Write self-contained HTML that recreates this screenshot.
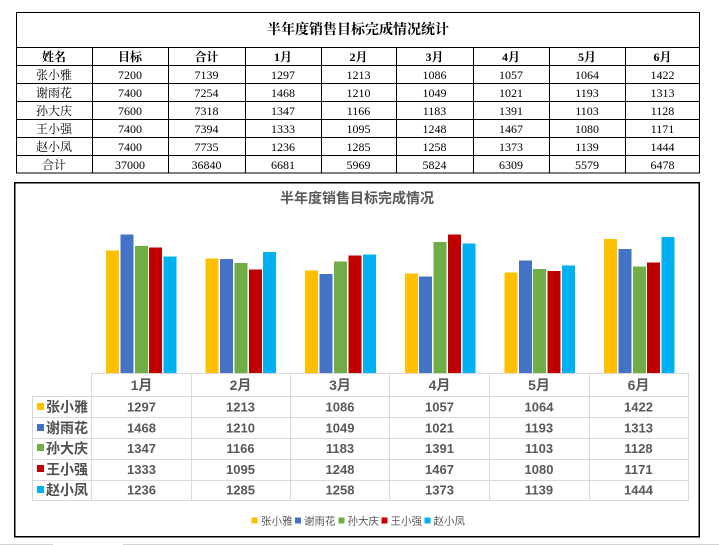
<!DOCTYPE html>
<html><head><meta charset="utf-8">
<style>
html,body{margin:0;padding:0;background:#fff;}
body{width:719px;height:545px;overflow:hidden;}
svg{display:block;}
.t{font-family:"Liberation Serif","Noto Serif CJK SC",serif;font-size:12px;fill:#000;}
.tb{font-weight:bold;}
.c{font-family:"Liberation Sans","Noto Sans CJK SC",sans-serif;fill:#595959;}
</style></head>
<body>
<svg width="719" height="545" viewBox="0 0 719 545" xmlns="http://www.w3.org/2000/svg">
<!-- Top table -->
<g stroke="#000" stroke-width="1" fill="none" shape-rendering="crispEdges">
<rect x="16.5" y="12.5" width="683" height="160.5"/>
<line x1="16" y1="47.5" x2="700" y2="47.5"/>
<line x1="16" y1="65.5" x2="700" y2="65.5"/>
<line x1="16" y1="83.5" x2="700" y2="83.5"/>
<line x1="16" y1="101.5" x2="700" y2="101.5"/>
<line x1="16" y1="119.5" x2="700" y2="119.5"/>
<line x1="16" y1="137.5" x2="700" y2="137.5"/>
<line x1="16" y1="155.5" x2="700" y2="155.5"/>
<line x1="92.5" y1="47" x2="92.5" y2="173"/>
<line x1="168.5" y1="47" x2="168.5" y2="173"/>
<line x1="245.5" y1="47" x2="245.5" y2="173"/>
<line x1="321.5" y1="47" x2="321.5" y2="173"/>
<line x1="396.5" y1="47" x2="396.5" y2="173"/>
<line x1="473.5" y1="47" x2="473.5" y2="173"/>
<line x1="549.5" y1="47" x2="549.5" y2="173"/>
<line x1="625.5" y1="47" x2="625.5" y2="173"/>
</g>
<text class="t tb" x="358" y="34" text-anchor="middle" style="font-size:14px">半年度销售目标完成情况统计</text>
<g class="t" text-anchor="middle">
<g class="tb">
<text x="54" y="61">姓名</text><text x="130" y="61">目标</text><text x="206.5" y="61">合计</text><text x="283" y="61">1月</text><text x="358.5" y="61">2月</text><text x="434.5" y="61">3月</text><text x="511" y="61">4月</text><text x="587" y="61">5月</text><text x="662.5" y="61">6月</text>
</g>
<text x="54" y="79">张小雅</text><text x="130" y="79">7200</text><text x="206.5" y="79">7139</text><text x="283" y="79">1297</text><text x="358.5" y="79">1213</text><text x="434.5" y="79">1086</text><text x="511" y="79">1057</text><text x="587" y="79">1064</text><text x="662.5" y="79">1422</text>
<text x="54" y="97">谢雨花</text><text x="130" y="97">7400</text><text x="206.5" y="97">7254</text><text x="283" y="97">1468</text><text x="358.5" y="97">1210</text><text x="434.5" y="97">1049</text><text x="511" y="97">1021</text><text x="587" y="97">1193</text><text x="662.5" y="97">1313</text>
<text x="54" y="115">孙大庆</text><text x="130" y="115">7600</text><text x="206.5" y="115">7318</text><text x="283" y="115">1347</text><text x="358.5" y="115">1166</text><text x="434.5" y="115">1183</text><text x="511" y="115">1391</text><text x="587" y="115">1103</text><text x="662.5" y="115">1128</text>
<text x="54" y="133">王小强</text><text x="130" y="133">7400</text><text x="206.5" y="133">7394</text><text x="283" y="133">1333</text><text x="358.5" y="133">1095</text><text x="434.5" y="133">1248</text><text x="511" y="133">1467</text><text x="587" y="133">1080</text><text x="662.5" y="133">1171</text>
<text x="54" y="151">赵小凤</text><text x="130" y="151">7400</text><text x="206.5" y="151">7735</text><text x="283" y="151">1236</text><text x="358.5" y="151">1285</text><text x="434.5" y="151">1258</text><text x="511" y="151">1373</text><text x="587" y="151">1139</text><text x="662.5" y="151">1444</text>
<text x="54" y="169">合计</text><text x="130" y="169">37000</text><text x="206.5" y="169">36840</text><text x="283" y="169">6681</text><text x="358.5" y="169">5969</text><text x="434.5" y="169">5824</text><text x="511" y="169">6309</text><text x="587" y="169">5579</text><text x="662.5" y="169">6478</text>
</g>

<!-- Chart frame -->
<rect x="14.75" y="182.75" width="684.5" height="354" fill="#fff" stroke="#000" stroke-width="1.5"/>
<text class="c" x="357" y="203" text-anchor="middle" style="font-size:14px;font-weight:bold">半年度销售目标完成情况</text>

<!-- Bars -->
<g shape-rendering="crispEdges">
<rect x="106" y="250.7" width="13" height="122.3" fill="#FFC000"/>
<rect x="120.4" y="234.6" width="13" height="138.4" fill="#4472C4"/>
<rect x="134.8" y="246" width="13" height="127" fill="#70AD47"/>
<rect x="149.2" y="247.3" width="13" height="125.7" fill="#C00000"/>
<rect x="163.6" y="256.4" width="13" height="116.6" fill="#00B0F0"/>

<rect x="205.6" y="258.6" width="13" height="114.4" fill="#FFC000"/>
<rect x="220" y="258.9" width="13" height="114.1" fill="#4472C4"/>
<rect x="234.4" y="263" width="13" height="110" fill="#70AD47"/>
<rect x="248.8" y="269.7" width="13" height="103.3" fill="#C00000"/>
<rect x="263.2" y="251.8" width="13" height="121.2" fill="#00B0F0"/>

<rect x="305.2" y="270.6" width="13" height="102.4" fill="#FFC000"/>
<rect x="319.6" y="274.1" width="13" height="98.9" fill="#4472C4"/>
<rect x="334" y="261.4" width="13" height="111.6" fill="#70AD47"/>
<rect x="348.4" y="255.3" width="13" height="117.7" fill="#C00000"/>
<rect x="362.8" y="254.4" width="13" height="118.6" fill="#00B0F0"/>

<rect x="404.8" y="273.3" width="13" height="99.7" fill="#FFC000"/>
<rect x="419.2" y="276.7" width="13" height="96.3" fill="#4472C4"/>
<rect x="433.6" y="241.8" width="13" height="131.2" fill="#70AD47"/>
<rect x="448" y="234.7" width="13" height="138.3" fill="#C00000"/>
<rect x="462.4" y="243.5" width="13" height="129.5" fill="#00B0F0"/>

<rect x="504.4" y="272.7" width="13" height="100.3" fill="#FFC000"/>
<rect x="518.8" y="260.5" width="13" height="112.5" fill="#4472C4"/>
<rect x="533.2" y="269" width="13" height="104" fill="#70AD47"/>
<rect x="547.6" y="271.2" width="13" height="101.8" fill="#C00000"/>
<rect x="562" y="265.6" width="13" height="107.4" fill="#00B0F0"/>

<rect x="604" y="238.9" width="13" height="134.1" fill="#FFC000"/>
<rect x="618.4" y="249.2" width="13" height="123.8" fill="#4472C4"/>
<rect x="632.8" y="266.6" width="13" height="106.4" fill="#70AD47"/>
<rect x="647.2" y="262.6" width="13" height="110.4" fill="#C00000"/>
<rect x="661.6" y="236.8" width="13" height="136.2" fill="#00B0F0"/>
</g>

<!-- Data table -->
<g stroke="#d9d9d9" stroke-width="1" shape-rendering="crispEdges">
<line x1="92" y1="373.5" x2="689" y2="373.5"/>
<line x1="32" y1="396.5" x2="689" y2="396.5"/>
<line x1="32" y1="417.5" x2="689" y2="417.5"/>
<line x1="32" y1="438.5" x2="689" y2="438.5"/>
<line x1="32" y1="459.5" x2="689" y2="459.5"/>
<line x1="32" y1="480.5" x2="689" y2="480.5"/>
<line x1="32" y1="500.5" x2="689" y2="500.5"/>
<line x1="32.5" y1="396" x2="32.5" y2="501"/>
<line x1="91.5" y1="373" x2="91.5" y2="501"/>
<line x1="191.5" y1="373" x2="191.5" y2="501"/>
<line x1="290.5" y1="373" x2="290.5" y2="501"/>
<line x1="389.5" y1="373" x2="389.5" y2="501"/>
<line x1="489.5" y1="373" x2="489.5" y2="501"/>
<line x1="589.5" y1="373" x2="589.5" y2="501"/>
<line x1="688.5" y1="373" x2="688.5" y2="501"/>
</g>
<g class="c" text-anchor="middle" style="font-size:14px;font-weight:bold">
<text x="141.5" y="390">1月</text><text x="240.5" y="390">2月</text><text x="340" y="390">3月</text><text x="439.5" y="390">4月</text><text x="539" y="390">5月</text><text x="638.5" y="390">6月</text>
</g>
<g class="c" text-anchor="middle" style="font-size:13px;font-weight:bold">
<text x="141.5" y="411.5">1297</text><text x="240.5" y="411.5">1213</text><text x="340" y="411.5">1086</text><text x="439.5" y="411.5">1057</text><text x="539" y="411.5">1064</text><text x="638.5" y="411.5">1422</text>
<text x="141.5" y="432.5">1468</text><text x="240.5" y="432.5">1210</text><text x="340" y="432.5">1049</text><text x="439.5" y="432.5">1021</text><text x="539" y="432.5">1193</text><text x="638.5" y="432.5">1313</text>
<text x="141.5" y="453">1347</text><text x="240.5" y="453">1166</text><text x="340" y="453">1183</text><text x="439.5" y="453">1391</text><text x="539" y="453">1103</text><text x="638.5" y="453">1128</text>
<text x="141.5" y="474">1333</text><text x="240.5" y="474">1095</text><text x="340" y="474">1248</text><text x="439.5" y="474">1467</text><text x="539" y="474">1080</text><text x="638.5" y="474">1171</text>
<text x="141.5" y="494.5">1236</text><text x="240.5" y="494.5">1285</text><text x="340" y="494.5">1258</text><text x="439.5" y="494.5">1373</text><text x="539" y="494.5">1139</text><text x="638.5" y="494.5">1444</text>
</g>
<g shape-rendering="crispEdges">
<rect x="37" y="403" width="7" height="7" fill="#FFC000"/>
<rect x="37" y="424" width="7" height="7" fill="#4472C4"/>
<rect x="37" y="444" width="7" height="7" fill="#70AD47"/>
<rect x="37" y="465" width="7" height="7" fill="#C00000"/>
<rect x="37" y="486" width="7" height="7" fill="#00B0F0"/>
</g>
<g class="c" style="font-size:14px;font-weight:bold;fill:#505050">
<text x="46" y="412">张小雅</text>
<text x="46" y="433">谢雨花</text>
<text x="46" y="453.5">孙大庆</text>
<text x="46" y="474.5">王小强</text>
<text x="46" y="495">赵小凤</text>
</g>

<!-- Bottom legend -->
<g shape-rendering="crispEdges">
<rect x="251.5" y="517.5" width="6" height="6" fill="#FFC000"/>
<rect x="295" y="517.5" width="6" height="6" fill="#4472C4"/>
<rect x="338.5" y="517.5" width="6" height="6" fill="#70AD47"/>
<rect x="381.5" y="517.5" width="6" height="6" fill="#C00000"/>
<rect x="424.5" y="517.5" width="6" height="6" fill="#00B0F0"/>
</g>
<g class="c" style="font-size:10.5px">
<text x="261" y="524.5">张小雅</text>
<text x="304" y="524.5">谢雨花</text>
<text x="347.5" y="524.5">孙大庆</text>
<text x="390.5" y="524.5">王小强</text>
<text x="433.5" y="524.5">赵小凤</text>
</g>

<!-- bottom gray lines -->
<g stroke="#d4d4d4" stroke-width="1" shape-rendering="crispEdges">
<line x1="0" y1="544.5" x2="53" y2="544.5"/>
<line x1="123" y1="544.5" x2="719" y2="544.5"/>
</g>
</svg>
</body></html>
